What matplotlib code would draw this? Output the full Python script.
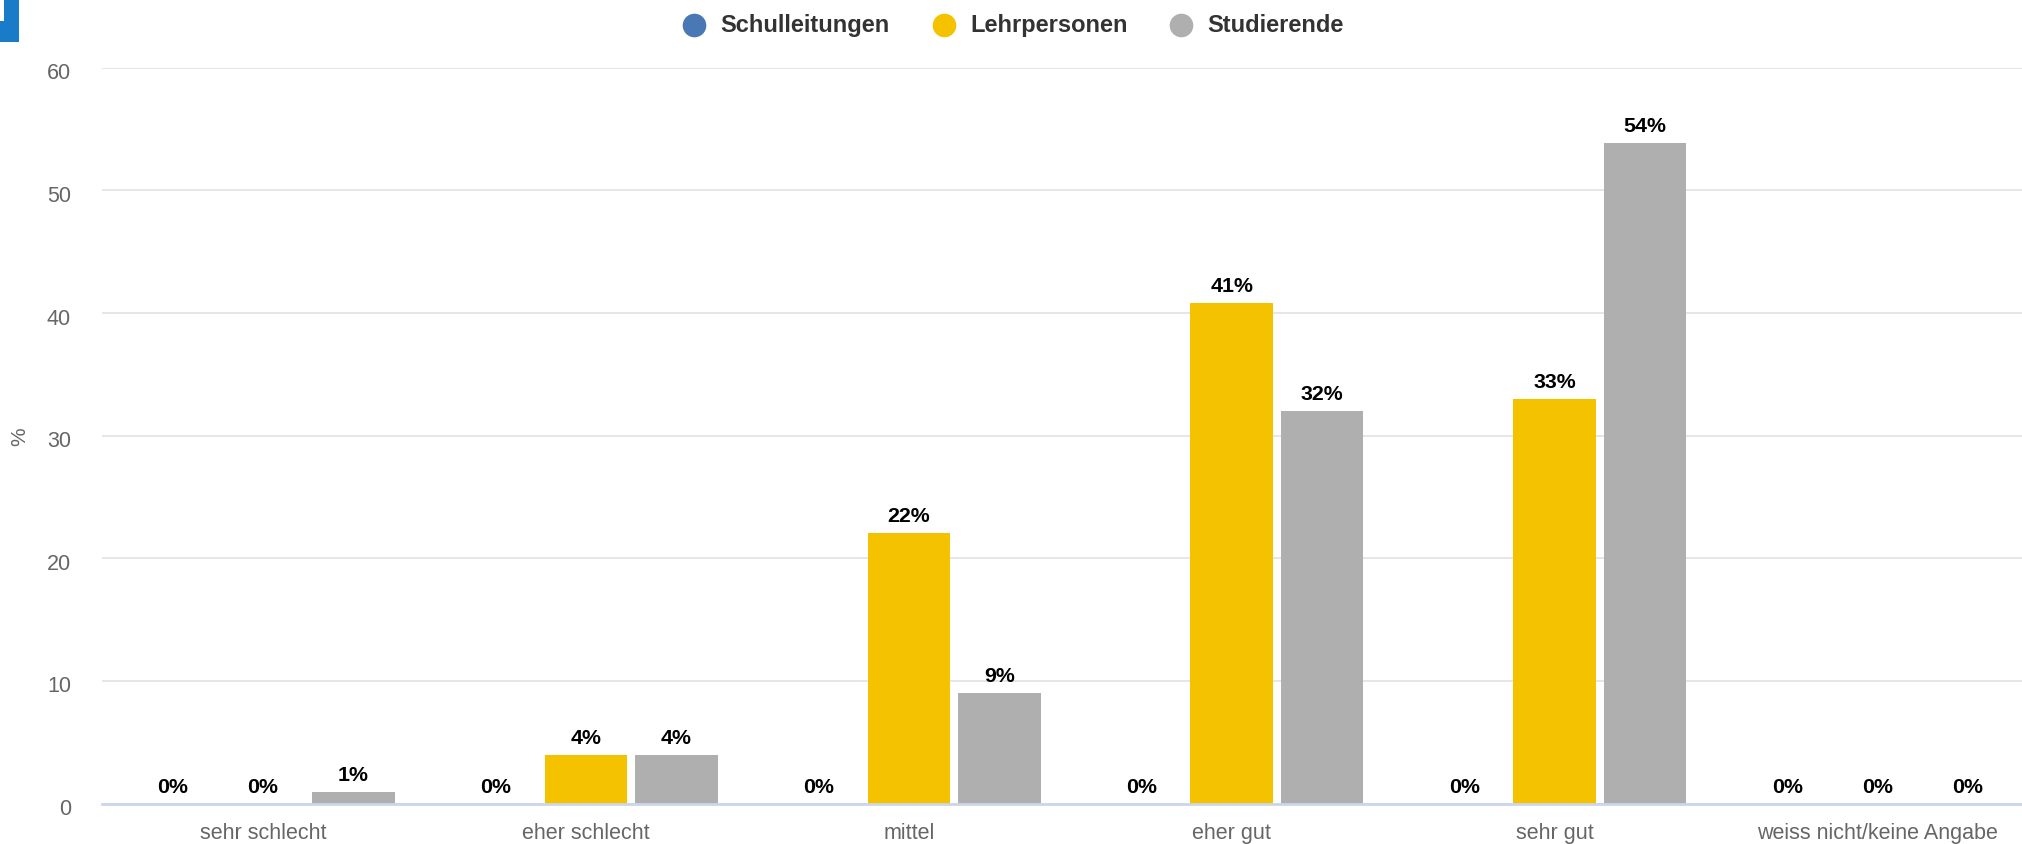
import matplotlib
matplotlib.use("Agg")
import matplotlib.pyplot as plt
import matplotlib.transforms as mtransforms
from matplotlib.lines import Line2D
from matplotlib.patches import Rectangle
import numpy as np

plt.rcParams['font.family'] = ['Liberation Sans', 'DejaVu Sans']

categories = ["sehr schlecht", "eher schlecht", "mittel", "eher gut", "sehr gut", "weiss nicht/keine Angabe"]
series_names = ["Schulleitungen", "Lehrpersonen", "Studierende"]
schulleitungen = [0, 0, 0, 0, 0, 0]
lehrpersonen = [0, 4.0, 22.05, 40.84, 33.0, 0]
studierende = [0.95, 4.0, 9.0, 32.04, 53.84, 0]
series_values = [schulleitungen, lehrpersonen, studierende]
colors = ["#4a78b5", "#f5c200", "#afafaf"]
yticks = [0, 10, 20, 30, 40, 50, 60]

W, H = 2022, 845
fig = plt.figure(figsize=(W / 100, H / 100), dpi=100)
ax = fig.add_axes([101.6 / W, 40.4 / H, (2039 - 101.6) / W, (804.6 - 68.8) / H])

x = np.arange(len(categories))
bw = 0.256
offsets = [-0.28, 0.0, 0.28]
for vals, off, col in zip(series_values, offsets, colors):
    ax.bar(x + off, vals, width=bw, color=col, zorder=3, linewidth=0)
    for xi, v in zip(x, vals):
        ax.annotate(f"{round(v):d}%", (xi + off, v), xytext=(0, 8.6), textcoords="offset points",
                    ha="center", va="baseline", fontsize=15.4, fontweight="bold", color="#000000",
                    zorder=4)

ax.set_xlim(-0.5, len(categories) - 0.5)
ax.set_ylim(0, 60)
ax.set_yticks(yticks)
ax.set_yticklabels([str(t) for t in yticks])
ax.set_xticks(x)
ax.set_xticklabels(categories)
ax.grid(axis="y", color="#e6e6e6", linewidth=1.4, zorder=0)
ax.set_axisbelow(True)
for s in ["top", "right", "left"]:
    ax.spines[s].set_visible(False)
ax.spines["bottom"].set_color("#ccd6eb")
ax.spines["bottom"].set_linewidth(2)
ax.spines["bottom"].set_zorder(5)
ax.tick_params(axis="y", length=0, pad=22, labelsize=15.5, labelcolor="#666666")
ax.tick_params(axis="x", length=0, pad=13, labelsize=15.5, labelcolor="#666666")
shift = mtransforms.ScaledTranslation(0, -2.5 / 100, fig.dpi_scale_trans)
for lbl in ax.get_yticklabels():
    lbl.set_transform(lbl.get_transform() + shift)

fig.text(20 / W, 1 - 437 / H, "%", rotation=90, ha="center", va="center", fontsize=15, color="#666666")

# legend
leg_y = 1 - 25.5 / H
leg_circles = [694, 944, 1181]
leg_texts = [720, 970, 1207]
for name, col, cx, tx in zip(series_names, colors, leg_circles, leg_texts):
    fig.add_artist(Line2D([cx / W], [leg_y], marker="o", markersize=17, color=col,
                          markeredgewidth=0, linestyle="none", transform=fig.transFigure))
    fig.text(tx / W, leg_y, name, ha="left", va="center", fontsize=17, fontweight="bold", color="#333333")

# corner icon fragment
fig.add_artist(Rectangle((0, 1 - 43 / H), 19 / W, 43 / H, transform=fig.transFigure,
                         color="#1a7cc9", linewidth=0))
fig.add_artist(Rectangle((0, 1 - 22 / H), 4 / W, 22 / H, transform=fig.transFigure,
                         color="white", linewidth=0))

fig.savefig("out.png", dpi=100)
